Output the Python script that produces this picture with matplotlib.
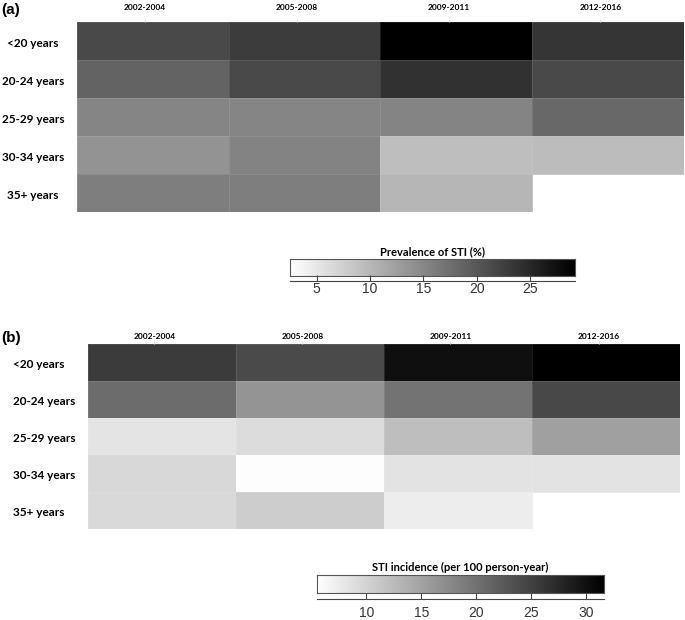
import numpy as np
import matplotlib
matplotlib.use("Agg")
import matplotlib.pyplot as plt

W, H = 685, 620

periods = ["2002-2004", "2005-2008", "2009-2011", "2012-2016"]
age_groups = ["<20 years", "20-24 years", "25-29 years", "30-34 years", "35+ years"]

# panel (a): prevalence of STI (%), rows = age groups, cols = periods
prev_lt20 = [21.5, 22.9, 29.2, 23.6]
prev_20_24 = [18.8, 21.5, 24.0, 21.5]
prev_25_29 = [15.3, 15.3, 15.4, 18.3]
prev_30_34 = [13.8, 15.5, 9.3, 9.5]
prev_35p = [16.0, 16.0, 10.2, np.nan]
prev_range = (2.5, 29.2)
prev_ticks = [5, 10, 15, 20, 25]

# panel (b): STI incidence (per 100 person-year)
inc_lt20 = [25.5, 24.0, 30.0, 31.6]
inc_20_24 = [20.5, 16.5, 19.8, 24.2]
inc_25_29 = [8.3, 9.1, 12.2, 15.2]
inc_30_34 = [9.5, 5.8, 8.4, 8.4]
inc_35p = [9.4, 10.6, 7.4, np.nan]
inc_range = (5.5, 31.6)
inc_ticks = [10, 15, 20, 25, 30]

LABEL_FONT = ["Lato", "DejaVu Sans"]
TICK_FONT = ["Liberation Sans", "DejaVu Sans"]


def px_axes(fig, left, top, right, bottom):
    return fig.add_axes([left / W, 1 - bottom / H, (right - left) / W, (bottom - top) / H])


def draw_heatmap(fig, box, data, vmin, vmax, row_x, row_ha, col_pad):
    ax = px_axes(fig, *box)
    masked = np.ma.masked_invalid(np.array(data))
    ax.pcolormesh(masked, cmap="gray_r", vmin=vmin, vmax=vmax,
                  edgecolors=(1, 1, 1, 0.1), linewidth=0.4)
    ax.set_xlim(0, len(periods))
    ax.set_ylim(len(age_groups), 0)
    for s in ax.spines.values():
        s.set_visible(False)
    ax.xaxis.tick_top()
    ax.set_xticks(np.arange(len(periods)) + 0.45)
    ax.set_xticklabels(periods, fontsize=6, fontweight="bold", family=LABEL_FONT)
    ax.tick_params(axis="x", length=2, color="#dddddd", pad=col_pad)
    ax.set_yticks([])
    # row labels drawn as figure text so they can be placed freely
    for i, lab in enumerate(age_groups):
        y = box[1] + (i + 0.5) * (box[3] - box[1]) / len(age_groups) + 2
        fig.text(row_x / W, 1 - y / H, lab, fontsize=8.5, fontweight="bold",
                 family=LABEL_FONT, ha=row_ha, va="center")
    return ax


def draw_colorbar(fig, box, line_y, vmin, vmax, ticks, title, label_pad):
    left, top, right, bottom = box
    cax = px_axes(fig, left, top, right, bottom)
    grad = np.linspace(vmin, vmax, 256)[None, :]
    cax.imshow(grad, cmap="gray_r", vmin=vmin, vmax=vmax, aspect="auto",
               extent=(vmin, vmax, 0, 1))
    cax.set_xticks([])
    cax.set_yticks([])
    for s in cax.spines.values():
        s.set_linewidth(0.8)
        s.set_color("#555555")
    cax.set_title(title, fontsize=8, fontweight="bold", family=LABEL_FONT, pad=3)

    tax = px_axes(fig, left, line_y - 4, right, line_y)
    tax.set_xlim(vmin, vmax)
    tax.set_yticks([])
    for name in ("top", "left", "right"):
        tax.spines[name].set_visible(False)
    tax.spines["bottom"].set_color("#444444")
    tax.set_facecolor("none")
    tax.set_xticks(ticks)
    tax.set_xticklabels([str(t) for t in ticks], fontsize=10, family=TICK_FONT,
                        color="#333333")
    tax.tick_params(axis="x", direction="in", length=4, color="#444444", pad=label_pad)


fig = plt.figure(figsize=(W / 100, H / 100), dpi=100)

data_a = [prev_lt20, prev_20_24, prev_25_29, prev_30_34, prev_35p]
draw_heatmap(fig, (76.7, 22.3, 684, 212.3), data_a, *prev_range,
             row_x=33, row_ha="center", col_pad=6)
draw_colorbar(fig, (290, 259.3, 575, 275.7), 280.7, *prev_range, prev_ticks,
              "Prevalence of STI (%)", label_pad=1)
fig.text(1 / W, 1 - 10 / H, "(a)", fontsize=11, fontweight="bold", family=TICK_FONT,
         ha="left", va="center")

data_b = [inc_lt20, inc_20_24, inc_25_29, inc_30_34, inc_35p]
draw_heatmap(fig, (87.7, 344, 680, 529.3), data_b, *inc_range,
             row_x=13, row_ha="left", col_pad=1)
draw_colorbar(fig, (316.7, 575, 604, 593.3), 599, *inc_range, inc_ticks,
              "STI incidence (per 100 person-year)", label_pad=5)
fig.text(1 / W, 1 - 338 / H, "(b)", fontsize=11, fontweight="bold", family=TICK_FONT,
         ha="left", va="center")

fig.savefig("out.png", dpi=100)
